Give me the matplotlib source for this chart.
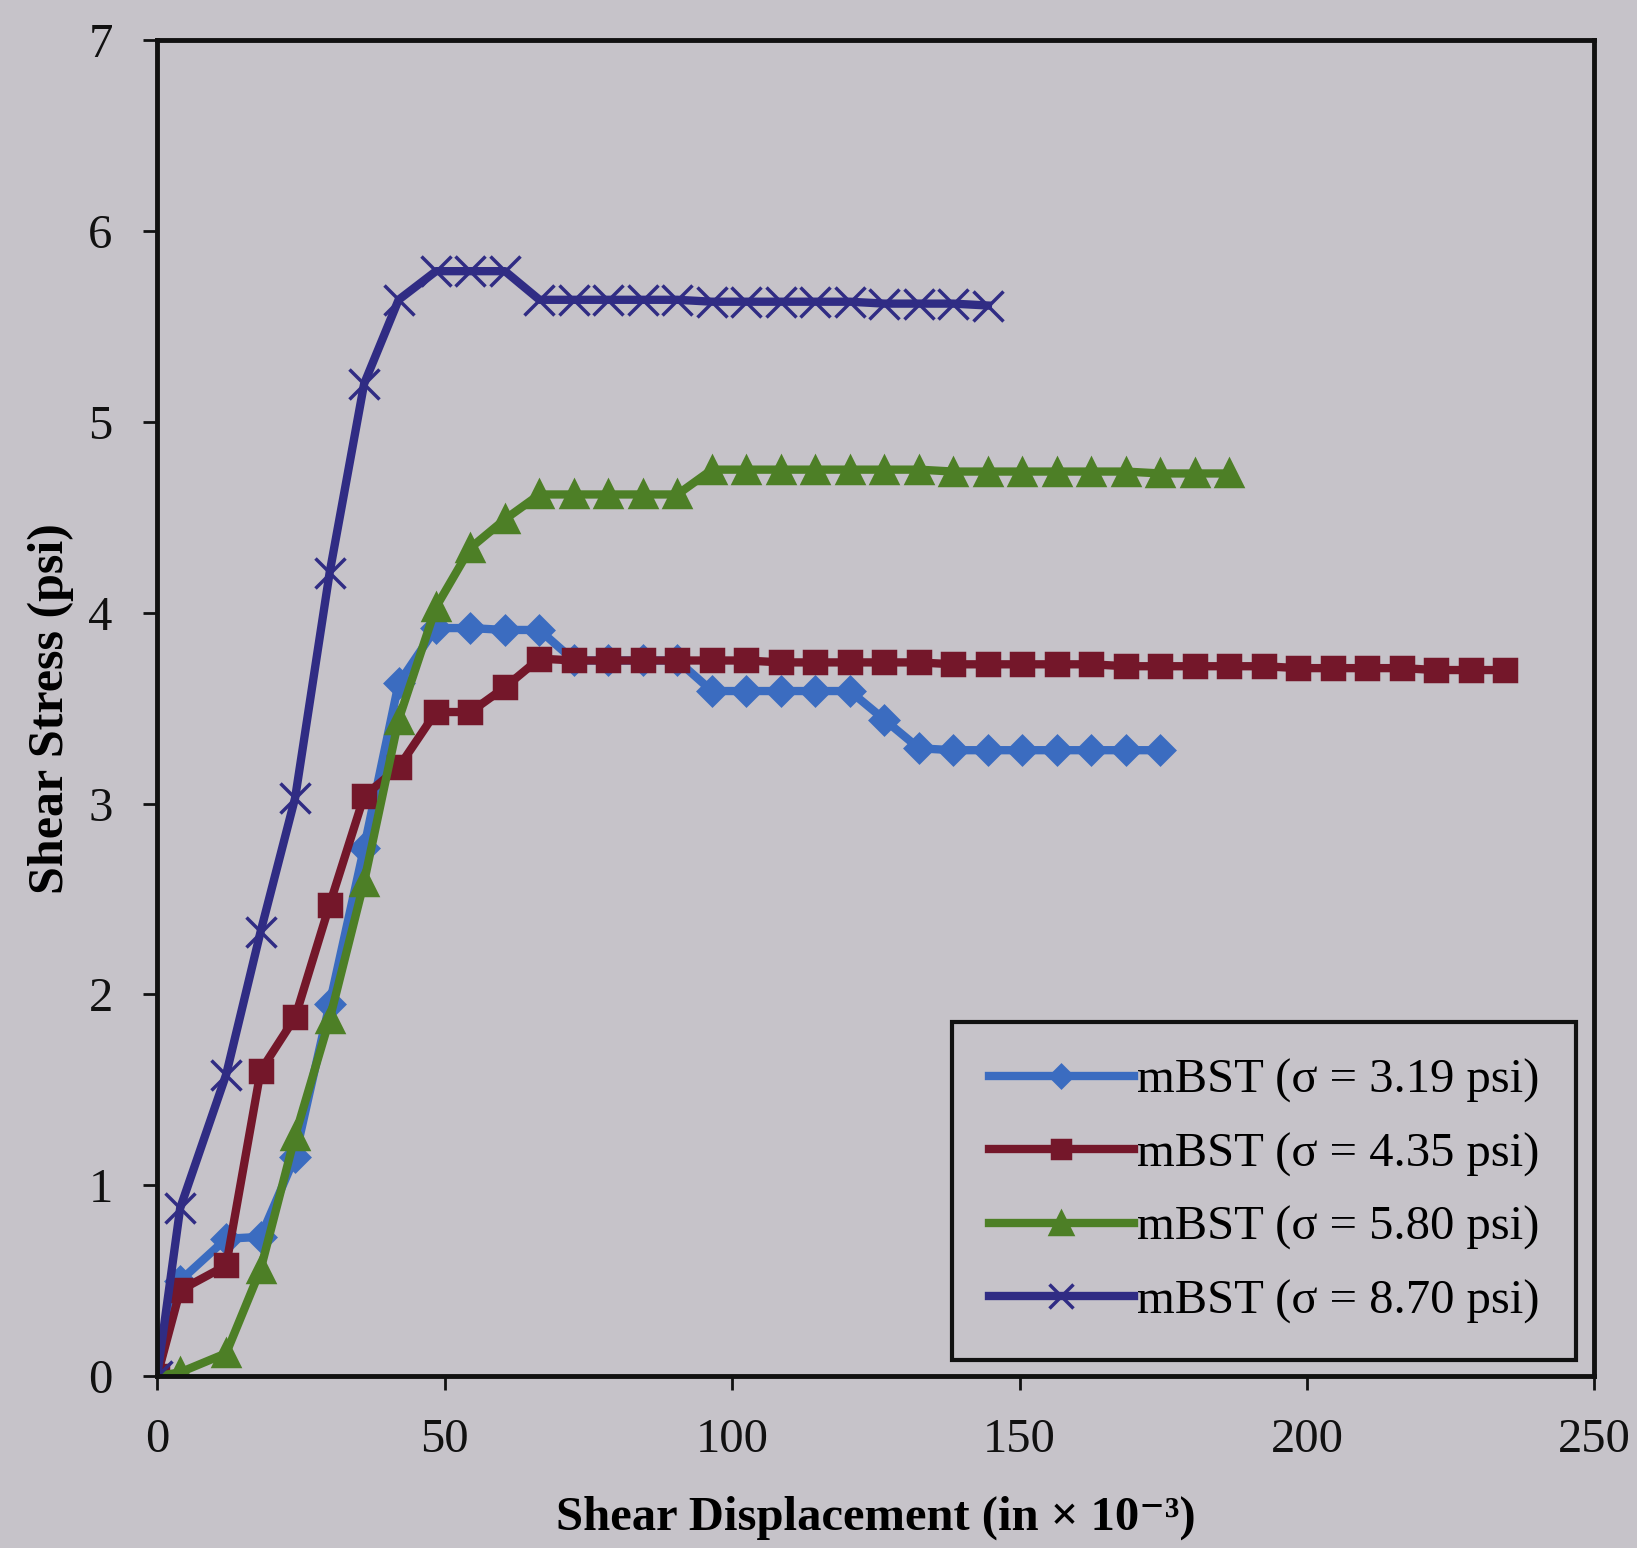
import numpy as np
import matplotlib.pyplot as plt

# Data =============================================================
# shear displacement (in x 10^-3), shared by all tests
disp = [0, 4, 12, 18, 24, 30, 36, 42, 48.5, 54.5, 60.5, 66.5, 72.5, 78.5,
        84.5, 90.5, 96.5, 102.5, 108.5, 114.5, 120.5, 126.5, 132.5, 138.5,
        144.5, 150.5, 156.5, 162.5, 168.5, 174.5, 180.5, 186.5, 192.5, 198.5,
        204.5, 210.5, 216.5, 222.5, 228.5, 234.5]

# shear stress (psi)
tau_319 = [0, 0.50, 0.72, 0.73, 1.15, 1.95, 2.77, 3.63, 3.92, 3.92, 3.91,
           3.91, 3.75, 3.75, 3.75, 3.75, 3.59, 3.59, 3.59, 3.59, 3.59, 3.44,
           3.29, 3.28, 3.28, 3.28, 3.28, 3.28, 3.28, 3.28]
tau_435 = [0, 0.45, 0.58, 1.60, 1.88, 2.47, 3.04, 3.19, 3.48, 3.48, 3.61,
           3.76, 3.75, 3.75, 3.75, 3.75, 3.75, 3.75, 3.74, 3.74, 3.74, 3.74,
           3.74, 3.73, 3.73, 3.73, 3.73, 3.73, 3.72, 3.72, 3.72, 3.72, 3.72,
           3.71, 3.71, 3.71, 3.71, 3.70, 3.70, 3.70]
tau_580 = [0, 0.02, 0.12, 0.56, 1.26, 1.87, 2.59, 3.44, 4.03, 4.34, 4.49,
           4.62, 4.62, 4.62, 4.62, 4.62, 4.75, 4.75, 4.75, 4.75, 4.75, 4.75,
           4.75, 4.74, 4.74, 4.74, 4.74, 4.74, 4.74, 4.73, 4.73, 4.73]
tau_870 = [0, 0.88, 1.58, 2.33, 3.03, 4.21, 5.20, 5.64, 5.79, 5.79, 5.79,
           5.64, 5.64, 5.64, 5.64, 5.64, 5.63, 5.63, 5.63, 5.63, 5.63, 5.62,
           5.62, 5.62, 5.61]

labels = ['mBST (σ = 3.19 psi)', 'mBST (σ = 4.35 psi)',
          'mBST (σ = 5.80 psi)', 'mBST (σ = 8.70 psi)']

# Plotting ==========================================================
bg = '#c6c3c9'
plt.rcParams['font.family'] = ['Liberation Serif', 'DejaVu Serif']

fig = plt.figure(figsize=(16.37, 15.48), dpi=100, facecolor=bg)
ax = fig.add_axes([0.096, 0.111, 0.878, 0.863], facecolor=bg)

series = [tau_319, tau_435, tau_580, tau_870]
colors = ['#3b6cc0', '#74172a', '#4d7f26', '#302c84']
markers = ['D', 's', '^', 'x']
msizes = [14, 16, 19, 22]

for tau, c, m, ms, lab in zip(series, colors, markers, msizes, labels):
    ax.plot(disp[:len(tau)], tau, color=c, lw=6, marker=m, ms=ms,
            mew=2.5, mec=c, mfc=c, label=lab)

ax.set_xlim(0, 250)
ax.set_ylim(0, 7)
ax.set_xticks(np.arange(0, 251, 50))
ax.set_yticks(np.arange(0, 8, 1))

for sp in ax.spines.values():
    sp.set_linewidth(3.5)
    sp.set_color('#111111')

ax.tick_params(axis='both', direction='out', length=10, width=2,
               labelsize=35, colors='#111111')
ax.tick_params(axis='x', pad=20)
ax.tick_params(axis='y', pad=22)

ax.set_xlabel('Shear Displacement (in × 10⁻³)', fontsize=35,
              fontweight='bold', labelpad=24)
ax.set_ylabel('Shear Stress (psi)', fontsize=36, fontweight='bold',
              labelpad=10)

leg = ax.legend(loc='lower right', bbox_to_anchor=(0.987, 0.012),
                borderaxespad=0, fontsize=35, frameon=True, fancybox=False,
                handlelength=3.0, labelspacing=0.6, borderpad=0.75,
                handletextpad=0.05, markerscale=0.8)
leg.get_frame().set_edgecolor('#111111')
leg.get_frame().set_linewidth(3)
leg.get_frame().set_facecolor(bg)
leg.get_frame().set_alpha(1)

plt.savefig('out.png', dpi=100, facecolor=bg)
